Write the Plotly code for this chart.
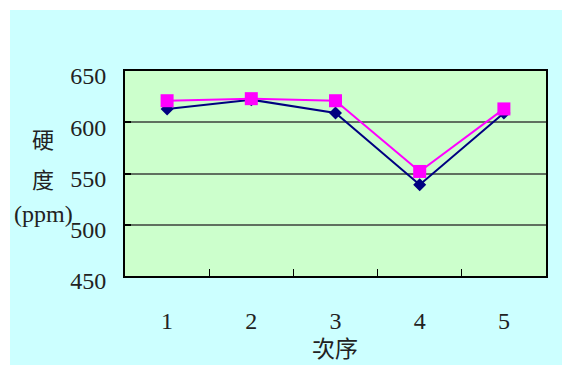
import plotly.graph_objects as go

# Hardness readings per run order
order = ["1", "2", "3", "4", "5"]
series_a = [613, 622, 609, 539, 609]
series_b = [621, 623, 621, 552, 613]
y_ticks = [450, 500, 550, 600, 650]

W, H = 562, 365
L, R, T, B = 125, 16, 71, 89
pw, ph = W - L - R, H - T - B


def px_x(x):
    return (x - L) / pw


def px_y(y):
    return (H - B - y) / ph


serif = "'Liberation Serif', 'Times New Roman', serif"
cjk = "'Noto Sans CJK TC', 'Noto Sans CJK SC', sans-serif"
ink = "#222222"


def label(text, x, y, family, size):
    return dict(text=text, x=px_x(x), y=px_y(y), xref="paper", yref="paper",
                xanchor="center", yanchor="middle", showarrow=False,
                font=dict(family=family, size=size, color=ink))


fig = go.Figure()
fig.add_trace(go.Scatter(
    x=order, y=series_a, mode="lines+markers",
    line=dict(color="#000080", width=2),
    marker=dict(symbol="diamond", size=10, color="#000080"),
    showlegend=False,
))
fig.add_trace(go.Scatter(
    x=order, y=series_b, mode="lines+markers",
    line=dict(color="#FF00FF", width=2),
    marker=dict(symbol="square", size=13, color="#FF00FF"),
    showlegend=False,
))

fig.update_layout(
    width=W, height=H,
    margin=dict(l=L, r=R, t=T, b=B),
    paper_bgcolor="#CCFFFF",
    plot_bgcolor="#CCFFCC",
    font=dict(family=serif, size=24, color=ink),
    shapes=[
        dict(type="rect", xref="paper", yref="paper", layer="above",
             x0=px_x(0), x1=px_x(10), y0=px_y(H), y1=px_y(0),
             fillcolor="white", line=dict(width=0)),
        dict(type="rect", xref="paper", yref="paper", layer="above",
             x0=px_x(0), x1=px_x(W), y0=px_y(10), y1=px_y(0),
             fillcolor="white", line=dict(width=0)),
    ],
    annotations=[
        label("硬", 43, 138, cjk, 22),
        label("度", 43, 178, cjk, 22),
        label("(ppm)", 43, 214, serif, 24),
        label("次序", 335, 347, cjk, 23),
    ],
)

fig.update_xaxes(
    type="category", range=[-0.5, 4.5],
    tickson="boundaries", ticks="inside", ticklen=7, tickwidth=1, tickcolor="black",
    showline=True, linecolor="black", linewidth=2, mirror=True,
    showgrid=False, zeroline=False,
    ticklabelstandoff=22,
    tickfont=dict(family=serif, size=24, color=ink),
)
fig.update_yaxes(
    range=[450, 650], tickvals=y_ticks,
    ticks="inside", ticklen=6, tickwidth=2, tickcolor="black",
    showline=True, linecolor="black", linewidth=2, mirror=True,
    showgrid=True, gridcolor="#5F705F", gridwidth=2, zeroline=False,
    ticklabelstandoff=12, ticklabelshift=5,
    tickfont=dict(family=serif, size=24, color=ink),
)

fig.write_html("out.html")
